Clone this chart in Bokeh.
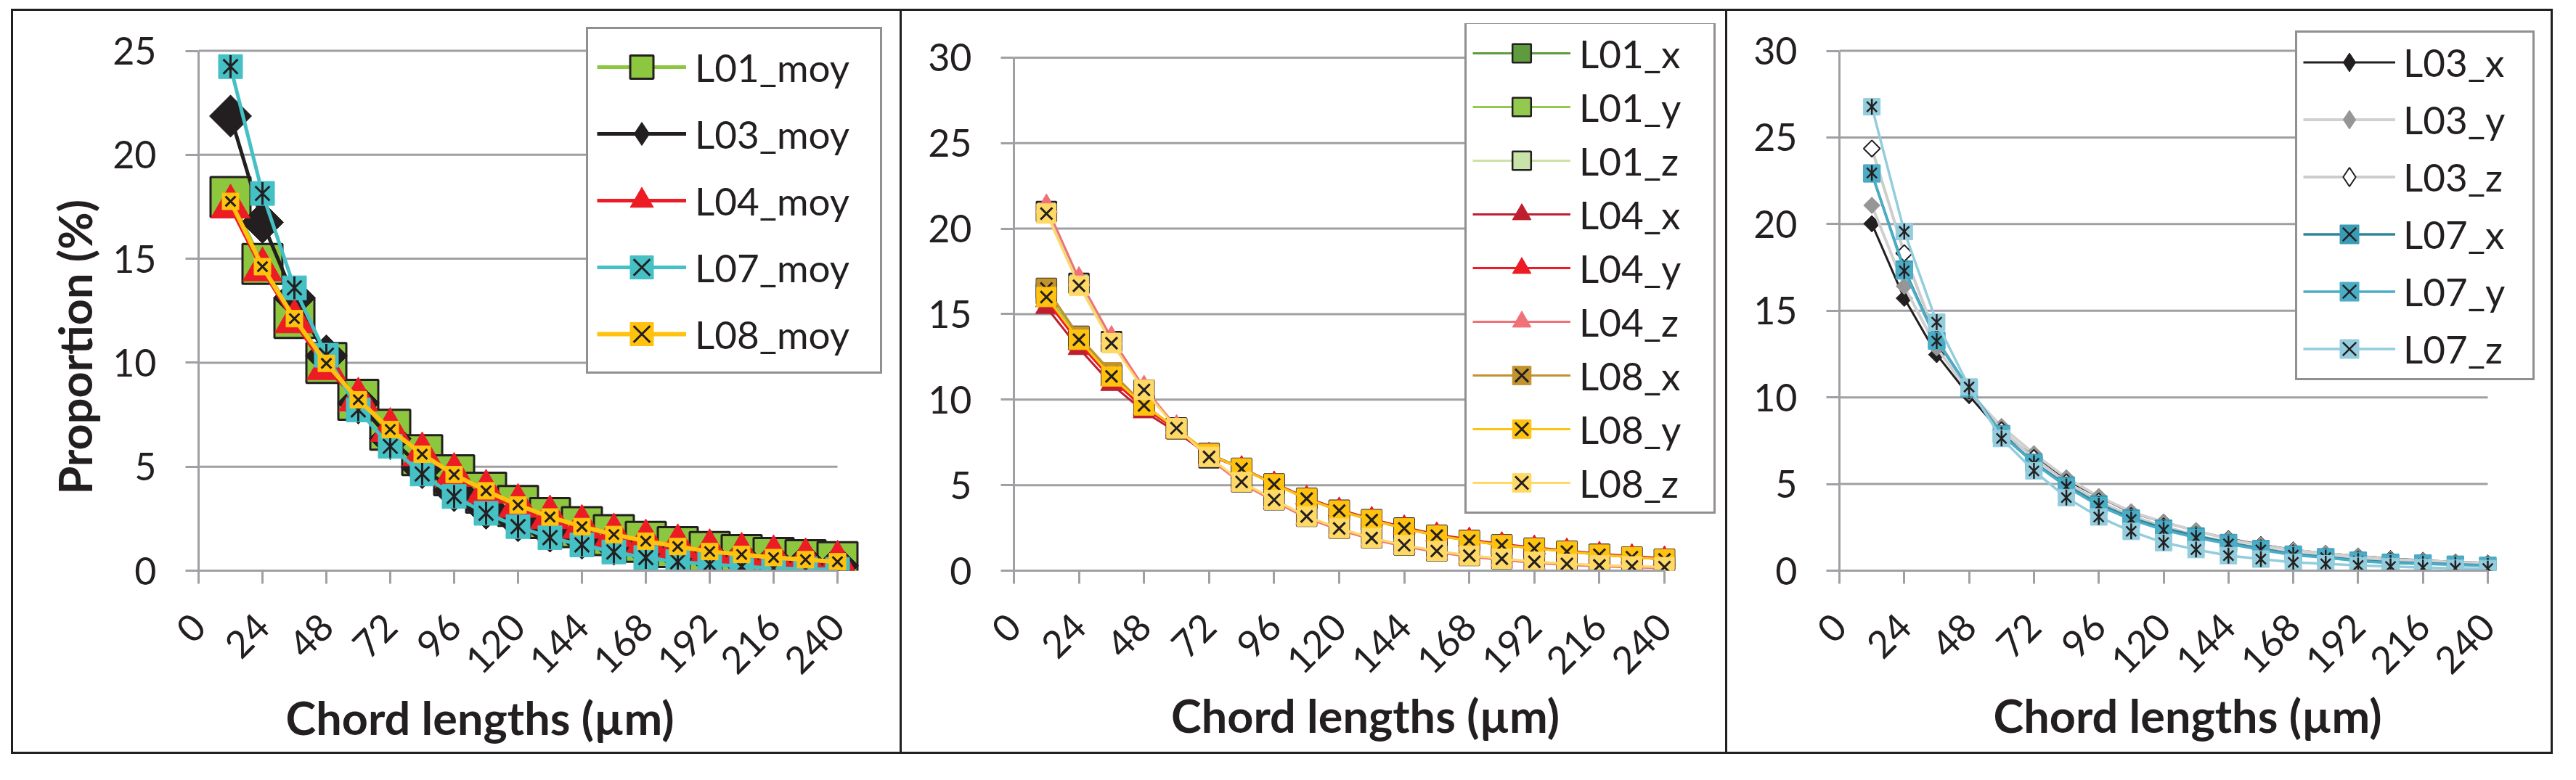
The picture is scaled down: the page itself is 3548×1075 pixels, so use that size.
import math
from bokeh.plotting import figure
from bokeh.layouts import row
from bokeh.models import Range1d, FixedTicker, Legend, LegendItem, Title
from bokeh.embed import file_html
from bokeh.resources import INLINE

# ---------------- data ----------------
chord_lengths = [12, 24, 36, 48, 60, 72, 84, 96, 108, 120, 132, 144, 156, 168, 180, 192, 204, 216, 228, 240]
x_ticks = [0, 24, 48, 72, 96, 120, 144, 168, 192, 216, 240]
y_ticks_left = [0, 5, 10, 15, 20, 25]
y_ticks_right = [0, 5, 10, 15, 20, 25, 30]
x_label = "Chord lengths (µm)"
y_label = "Proportion (%)"

# panel 1 : mean curves
names_moy = ["L01_moy", "L03_moy", "L04_moy", "L07_moy", "L08_moy"]
L01_moy = [17.97, 14.75, 12.15, 9.99, 8.22, 6.78, 5.56, 4.59, 3.75, 3.11, 2.53, 2.09, 1.71, 1.39, 1.13, 0.90, 0.75, 0.61, 0.51, 0.41]
L03_moy = [21.86, 16.75, 13.12, 10.33, 8.06, 6.35, 4.95, 3.85, 3.00, 2.40, 1.90, 1.56, 1.27, 1.03, 0.80, 0.63, 0.51, 0.40, 0.34, 0.24]
L04_moy = [17.50, 14.48, 11.98, 9.73, 8.22, 6.76, 5.59, 4.60, 3.79, 3.11, 2.56, 2.10, 1.69, 1.40, 1.17, 0.93, 0.76, 0.64, 0.50, 0.38]
L07_moy = [24.24, 18.14, 13.60, 10.36, 7.73, 5.98, 4.65, 3.57, 2.76, 2.12, 1.59, 1.24, 0.90, 0.63, 0.43, 0.31, 0.20, 0.12, 0.08, 0.06]
L08_moy = [17.76, 14.62, 12.12, 9.97, 8.22, 6.79, 5.60, 4.62, 3.84, 3.16, 2.58, 2.12, 1.74, 1.42, 1.16, 0.92, 0.78, 0.63, 0.53, 0.43]

# panel 2 : L01, L04, L08 directions
names_p2 = ["L01_x", "L01_y", "L01_z", "L04_x", "L04_y", "L04_z", "L08_x", "L08_y", "L08_z"]
L01_x = [16.50, 13.70, 11.50, 9.70, 8.30, 6.85, 5.98, 5.07, 4.23, 3.53, 2.98, 2.49, 2.07, 1.77, 1.51, 1.31, 1.13, 0.95, 0.80, 0.67]
L01_y = [16.20, 13.50, 11.40, 9.60, 8.30, 6.80, 5.95, 5.05, 4.20, 3.50, 2.95, 2.46, 2.05, 1.75, 1.49, 1.30, 1.12, 0.93, 0.79, 0.66]
L01_z = [21.00, 16.80, 13.40, 10.55, 8.35, 6.60, 5.20, 4.15, 3.18, 2.48, 1.92, 1.50, 1.16, 0.89, 0.71, 0.53, 0.41, 0.32, 0.26, 0.22]
L04_x = [15.40, 13.00, 10.90, 9.30, 8.10, 6.75, 5.98, 5.10, 4.27, 3.58, 3.03, 2.54, 2.12, 1.82, 1.55, 1.36, 1.18, 0.99, 0.85, 0.72]
L04_y = [15.80, 13.30, 11.20, 9.50, 8.25, 6.80, 6.00, 5.10, 4.25, 3.55, 3.00, 2.50, 2.10, 1.80, 1.53, 1.34, 1.16, 0.97, 0.83, 0.70]
L04_z = [21.30, 17.05, 13.60, 10.70, 8.40, 6.55, 5.10, 4.05, 3.08, 2.38, 1.83, 1.42, 1.08, 0.82, 0.63, 0.46, 0.34, 0.25, 0.19, 0.15]
L08_x = [16.50, 13.70, 11.60, 9.70, 8.30, 6.85, 5.99, 5.08, 4.23, 3.52, 2.97, 2.48, 2.06, 1.76, 1.50, 1.31, 1.13, 0.94, 0.80, 0.67]
L08_y = [16.00, 13.50, 11.36, 9.66, 8.33, 6.80, 5.96, 5.05, 4.21, 3.51, 2.96, 2.47, 2.05, 1.75, 1.49, 1.30, 1.12, 0.93, 0.79, 0.66]
L08_z = [20.88, 16.66, 13.30, 10.57, 8.33, 6.65, 5.19, 4.14, 3.17, 2.47, 1.91, 1.49, 1.15, 0.88, 0.70, 0.52, 0.40, 0.31, 0.25, 0.21]

# panel 3 : L03, L07 directions
names_p3 = ["L03_x", "L03_y", "L03_z", "L07_x", "L07_y", "L07_z"]
L03_x = [20.02, 15.72, 12.47, 10.10, 7.95, 6.60, 5.25, 4.25, 3.35, 2.80, 2.30, 1.85, 1.50, 1.20, 1.00, 0.85, 0.70, 0.60, 0.50, 0.45]
L03_y = [21.08, 16.41, 12.86, 10.30, 8.32, 6.75, 5.36, 4.28, 3.40, 2.80, 2.31, 1.81, 1.46, 1.18, 0.99, 0.83, 0.67, 0.57, 0.49, 0.43]
L03_z = [24.36, 18.32, 13.40, 10.40, 8.10, 6.50, 5.10, 4.00, 3.15, 2.55, 2.05, 1.60, 1.30, 1.00, 0.82, 0.66, 0.54, 0.45, 0.38, 0.33]
L07_x = [22.90, 17.40, 13.30, 10.50, 7.90, 6.25, 4.93, 3.85, 3.04, 2.45, 2.00, 1.62, 1.27, 0.95, 0.80, 0.60, 0.48, 0.43, 0.37, 0.30]
L07_y = [22.95, 17.30, 13.25, 10.50, 7.85, 6.20, 4.85, 3.75, 2.95, 2.35, 1.90, 1.55, 1.20, 0.90, 0.75, 0.55, 0.44, 0.40, 0.34, 0.28]
L07_z = [26.77, 19.57, 14.34, 10.60, 7.63, 5.76, 4.22, 3.10, 2.27, 1.62, 1.22, 0.87, 0.67, 0.48, 0.40, 0.30, 0.24, 0.18, 0.14, 0.12]

# ---------------- styles ----------------
FONT = "Lato"
TXT = "#231f20"
GRID = "#a0a0a4"
TITLE_SIZE = "63px"
TICK_SIZE = "52px"
LEGEND_SIZE = "53px"

STY = {
    "L01_moy": dict(line="#8dc63f", lw=5, kind="square", size=55, fill="#8dc63f", edge=TXT, ew=3),
    "L03_moy": dict(line=TXT, lw=5, kind="diamond", size=41, fill=TXT, edge=TXT, ew=1),
    "L04_moy": dict(line="#ed1c24", lw=5, kind="triangle", size=54, fill="#ed1c24"),
    "L07_moy": dict(line="#45c0c5", lw=5, kind="star", size=33, fill="#45c0c5", edge="#45c0c5", xw=3),
    "L08_moy": dict(line="#ffc20e", lw=6, kind="xsq", size=23, fill="#ffc20e", edge="#ffc20e", xw=3),
    "L01_x": dict(line="#5e9a3e", lw=3, kind="square", size=27, fill="#5e9a3e", edge=TXT, ew=2.5),
    "L01_y": dict(line="#92c94e", lw=3, kind="square", size=27, fill="#92c94e", edge=TXT, ew=2.5),
    "L01_z": dict(line="#c9e2a8", lw=3, kind="square", size=27, fill="#c9e2a8", edge=TXT, ew=2.5),
    "L04_x": dict(line="#be1e2d", lw=3, kind="triangle", size=30, fill="#be1e2d"),
    "L04_y": dict(line="#ed1c24", lw=3, kind="triangle", size=30, fill="#ed1c24"),
    "L04_z": dict(line="#f07178", lw=3, kind="triangle", size=30, fill="#f07178"),
    "L08_x": dict(line="#c2922f", lw=3, kind="xsq", size=27, fill="#c2922f", edge="#c2922f", xw=3),
    "L08_y": dict(line="#ffc20e", lw=3, kind="xsq", size=27, fill="#ffc20e", edge="#ffc20e", xw=3),
    "L08_z": dict(line="#ffd966", lw=3, kind="xsq", size=27, fill="#ffd966", edge="#ffd966", xw=3),
    "L03_x": dict(line=TXT, lw=3, kind="diamond", size=16, fill=TXT, edge=TXT, ew=1),
    "L03_y": dict(line="#d0d0d0", lw=4, kind="diamond", size=16, fill="#969696", edge="#969696", ew=1),
    "L03_z": dict(line="#cdcdcd", lw=4, kind="diamond", size=16, fill="#ffffff", edge=TXT, ew=2),
    "L07_x": dict(line="#31859c", lw=3.5, kind="star", size=23, fill="#3a9bb5", edge="#3a9bb5", xw=2.5),
    "L07_y": dict(line="#4bacc6", lw=3.5, kind="star", size=23, fill="#4bacc6", edge="#4bacc6", xw=2.5),
    "L07_z": dict(line="#93cddd", lw=3.5, kind="star", size=23, fill="#93cddd", edge="#93cddd", xw=2.5),
}


def add_series(p, ys, st):
    """returns the renderers shown in the legend"""
    line = p.line(chord_lengths, ys, line_color=st["line"], line_width=st["lw"], line_join="round")
    legend_rs = [line]
    k, s = st["kind"], st["size"]
    if k == "square":
        legend_rs.append(p.scatter(chord_lengths, ys, marker="square", size=s,
                                   fill_color=st["fill"], line_color=st["edge"], line_width=st["ew"]))
    elif k == "diamond":
        # narrow diamond (legend symbol), covered in the plot by a square rotated 45 deg
        legend_rs.append(p.scatter(chord_lengths, ys, marker="diamond", size=s * 1.4,
                                   fill_color=st["fill"], line_color=st["edge"], line_width=st["ew"]))
        p.scatter(chord_lengths, ys, marker="square", size=s, angle=math.pi / 4,
                  fill_color=st["fill"], line_color=st["edge"], line_width=st["ew"])
    elif k == "triangle":
        legend_rs.append(p.scatter(chord_lengths, ys, marker="triangle", size=s,
                                   fill_color=st["fill"], line_color=st["fill"], line_width=1))
    else:
        legend_rs.append(p.scatter(chord_lengths, ys, marker="square", size=s,
                                   fill_color=st["fill"], line_color=st["edge"], line_width=1))
        legend_rs.append(p.scatter(chord_lengths, ys, marker="x", size=s * 0.85,
                                   line_color=TXT, line_width=st["xw"]))
        if k == "star":
            p.scatter(chord_lengths, ys, marker="dash", angle=math.pi / 2, size=s * 0.95,
                      line_color=TXT, line_width=st["xw"])
    return legend_rs


def make_panel(width, left, right, top, frame_w_px, data_w_px, frame_h_px, data_h_px,
               yticks, names, data, leg, box, first=False):
    x_max = x_ticks[-1] * frame_w_px / data_w_px
    y_max = yticks[-1] * frame_h_px / data_h_px
    p = figure(width=width, height=1027, x_range=Range1d(0, x_max), y_range=Range1d(0, y_max),
               output_backend="svg", toolbar_location=None,
               min_border_left=left, min_border_right=right,
               min_border_top=top, min_border_bottom=253,
               border_fill_color=None, background_fill_color=None, outline_line_color=None)
    p.xgrid.visible = False
    p.ygrid.visible = False
    # horizontal grid lines limited to the category span
    p.segment(x0=[x_ticks[0]] * len(yticks), y0=yticks, x1=[x_ticks[-1]] * len(yticks), y1=yticks,
              line_color=GRID, line_width=3, level="underlay")
    p.xaxis.ticker = FixedTicker(ticks=x_ticks)
    p.yaxis.ticker = FixedTicker(ticks=yticks)
    p.xaxis.bounds = (x_ticks[0], x_ticks[-1])
    p.yaxis.bounds = (yticks[0], yticks[-1])
    for ax in (p.xaxis[0], p.yaxis[0]):
        ax.axis_line_color = GRID
        ax.axis_line_width = 3
        ax.major_tick_line_color = GRID
        ax.major_tick_line_width = 3
        ax.major_tick_in = 0
        ax.major_tick_out = 18
        ax.minor_tick_line_color = None
        ax.major_label_text_font = FONT
        ax.major_label_text_font_size = TICK_SIZE
        ax.major_label_text_color = TXT
        ax.axis_label_text_font = FONT
        ax.axis_label_text_font_size = TITLE_SIZE
        ax.axis_label_text_font_style = "bold"
        ax.axis_label_text_color = TXT
    p.xaxis.major_label_orientation = math.pi / 4
    p.xaxis.major_label_standoff = 50
    p.yaxis.major_label_standoff = 40
    if first:
        # axis titles placed like the spreadsheet's (not centred on the plot area)
        p.add_layout(Title(text=y_label, align="left", offset=105, standoff=25,
                           text_font=FONT, text_font_size=TITLE_SIZE, text_font_style="bold",
                           text_color=TXT), "left")
        p.add_layout(Title(text=x_label, align="left", offset=120, standoff=0,
                           text_font=FONT, text_font_size=TITLE_SIZE, text_font_style="bold",
                           text_color=TXT), "below")
    else:
        p.xaxis.axis_label = x_label
        p.xaxis.axis_label_standoff = 0

    items = []
    for nm, ys in zip(names, data):
        items.append(LegendItem(label=nm, renderers=add_series(p, ys, STY[nm])))
    legend = Legend(items=items, location=leg["loc"], margin=0, padding=leg["pad"],
                    spacing=leg["sp"], glyph_width=leg["gw"], glyph_height=leg["gh"],
                    label_standoff=leg["ls"], label_width=leg["lw"],
                    label_text_font=FONT, label_text_font_size=LEGEND_SIZE, label_text_color=TXT,
                    border_line_color=TXT, border_line_width=3,
                    background_fill_color="white", background_fill_alpha=1.0)
    p.add_layout(legend)
    p.styles = {"box-shadow": box}
    return p


BOX_FULL = "inset 0 0 0 3px #231f20"
BOX_TRB = "inset 0 3px 0 0 #231f20, inset -3px 0 0 0 #231f20, inset 0 -3px 0 0 #231f20"

p1 = make_panel(1227, 258, 25, 20, 944, 880, 754, 716.5, y_ticks_left, names_moy,
                [L01_moy, L03_moy, L04_moy, L07_moy, L08_moy],
                dict(loc=(534, 271), pad=12, sp=12, gw=123, gh=80, ls=12, lw=243),
                BOX_FULL, first=True)
p2 = make_panel(1137, 154, 15, 10, 968, 896, 764, 716.5, y_ticks_right, names_p2,
                [L01_x, L01_y, L01_z, L04_x, L04_y, L04_z, L08_x, L08_y, L08_z],
                dict(loc=(621, 78), pad=8, sp=10, gw=135, gh=64, ls=12, lw=177),
                BOX_TRB)
p3 = make_panel(1137, 154, 24, 20, 959, 893, 754, 716.5, y_ticks_right, names_p3,
                [L03_x, L03_y, L03_z, L07_x, L07_y, L07_z],
                dict(loc=(628, 262), pad=8, sp=14, gw=127, gh=65, ls=11, lw=170),
                BOX_TRB)

layout = row(p1, p2, p3, spacing=0)
layout.margin = (12, 0, 0, 15)

open("out.html", "w").write(file_html(layout, INLINE))
